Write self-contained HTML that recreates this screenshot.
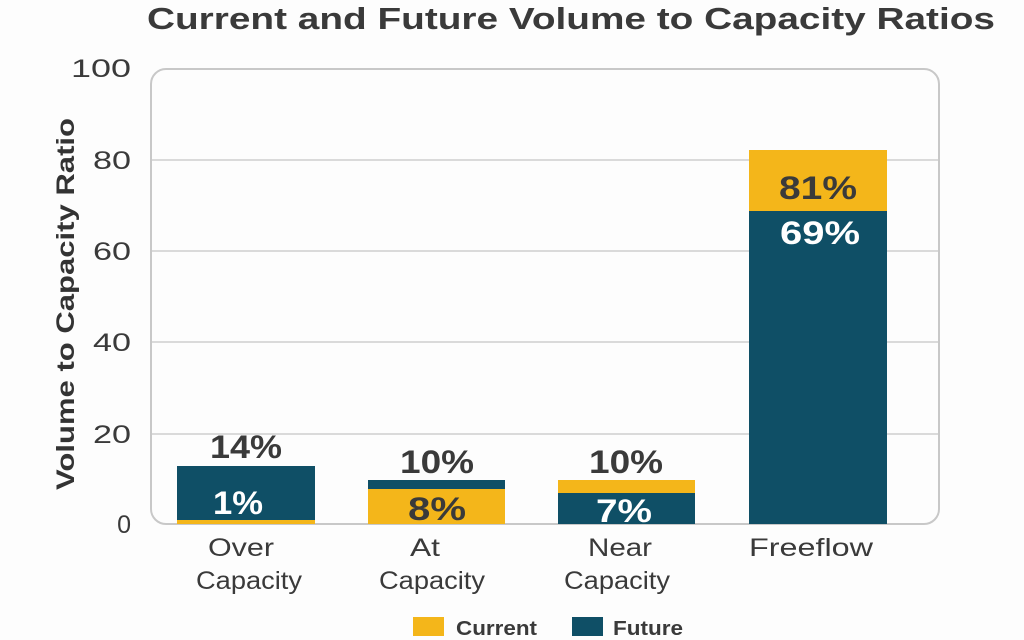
<!DOCTYPE html>
<html><head><meta charset="utf-8"><style>
html,body{margin:0;padding:0;background:#fdfdfd;}
svg{display:block;font-family:"Liberation Sans",sans-serif;}
</style></head><body>
<svg width="1024" height="640" viewBox="0 0 1024 640">
<rect width="1024" height="640" fill="#fdfdfd"/>
<text x="147" y="29" font-size="31" font-weight="bold" fill="#3a3a3a" textLength="848" lengthAdjust="spacingAndGlyphs">Current and Future Volume to Capacity Ratios</text>
<g stroke="#cfcfcf" stroke-width="1.5">
<line x1="151" y1="160" x2="939" y2="160"/>
<line x1="151" y1="251" x2="939" y2="251"/>
<line x1="151" y1="342" x2="939" y2="342"/>
<line x1="151" y1="434" x2="939" y2="434"/>
</g>
<rect x="151" y="69" width="788" height="455" rx="15" fill="none" stroke="#c8c8c8" stroke-width="2"/>
<g font-size="25" fill="#3a3a3a" text-anchor="end" font-weight="bold" stroke="#fdfdfd" stroke-width="0">
<text x="131" y="77" textLength="60" lengthAdjust="spacingAndGlyphs" font-weight="normal">100</text>
<text x="131" y="169" font-weight="normal" textLength="38" lengthAdjust="spacingAndGlyphs">80</text>
<text x="131" y="260" font-weight="normal" textLength="38" lengthAdjust="spacingAndGlyphs">60</text>
<text x="131" y="351" font-weight="normal" textLength="38" lengthAdjust="spacingAndGlyphs">40</text>
<text x="131" y="443" font-weight="normal" textLength="38" lengthAdjust="spacingAndGlyphs">20</text>
<text x="131" y="533" font-weight="normal">0</text>
</g>
<text transform="translate(74,304) rotate(-90)" text-anchor="middle" font-size="25" font-weight="bold" fill="#333" textLength="372" lengthAdjust="spacingAndGlyphs">Volume to Capacity Ratio</text>
<rect x="177" y="466" width="138" height="58" fill="#0f4f66"/>
<rect x="177" y="520" width="138" height="4" fill="#f4b61a"/>
<rect x="368" y="480" width="137" height="44" fill="#0f4f66"/>
<rect x="368" y="489" width="137" height="35" fill="#f4b61a"/>
<rect x="558" y="480" width="137" height="44" fill="#f4b61a"/>
<rect x="558" y="493" width="137" height="31" fill="#0f4f66"/>
<rect x="749" y="150" width="138" height="374" fill="#f4b61a"/>
<rect x="749" y="211" width="138" height="313" fill="#0f4f66"/>
<g font-size="32" font-weight="bold" text-anchor="middle">
<text x="246" y="458" fill="#3a3a3a" textLength="72" lengthAdjust="spacingAndGlyphs">14%</text>
<text x="238" y="514" fill="#fff" textLength="50" lengthAdjust="spacingAndGlyphs">1%</text>
<text x="437" y="473" fill="#3a3a3a" textLength="74" lengthAdjust="spacingAndGlyphs">10%</text>
<text x="437" y="520" fill="#3a3a3a" textLength="58" lengthAdjust="spacingAndGlyphs">8%</text>
<text x="626" y="473" fill="#3a3a3a" textLength="74" lengthAdjust="spacingAndGlyphs">10%</text>
<text x="624" y="522" fill="#fff" textLength="56" lengthAdjust="spacingAndGlyphs">7%</text>
<text x="818" y="199" fill="#3a3a3a" textLength="78" lengthAdjust="spacingAndGlyphs">81%</text>
<text x="820" y="244" fill="#fff" textLength="80" lengthAdjust="spacingAndGlyphs">69%</text>
</g>
<g font-size="25" fill="#3a3a3a" text-anchor="middle">
<text x="241" y="556" textLength="66" lengthAdjust="spacingAndGlyphs">Over</text><text x="249" y="589" textLength="106" lengthAdjust="spacingAndGlyphs">Capacity</text>
<text x="425" y="556" textLength="30" lengthAdjust="spacingAndGlyphs">At</text><text x="432" y="589" textLength="106" lengthAdjust="spacingAndGlyphs">Capacity</text>
<text x="620" y="556" textLength="64" lengthAdjust="spacingAndGlyphs">Near</text><text x="617" y="589" textLength="106" lengthAdjust="spacingAndGlyphs">Capacity</text>
<text x="811" y="556" textLength="124" lengthAdjust="spacingAndGlyphs">Freeflow</text>
</g>
<rect x="413" y="617" width="31" height="19" fill="#f4b61a"/>
<text x="456" y="635" font-size="20" font-weight="bold" fill="#3a3a3a" textLength="81" lengthAdjust="spacingAndGlyphs">Current</text>
<rect x="572" y="617" width="31" height="19" fill="#0f4f66"/>
<text x="613" y="635" font-size="20" font-weight="bold" fill="#3a3a3a" textLength="70" lengthAdjust="spacingAndGlyphs">Future</text>
</svg>
</body></html>
